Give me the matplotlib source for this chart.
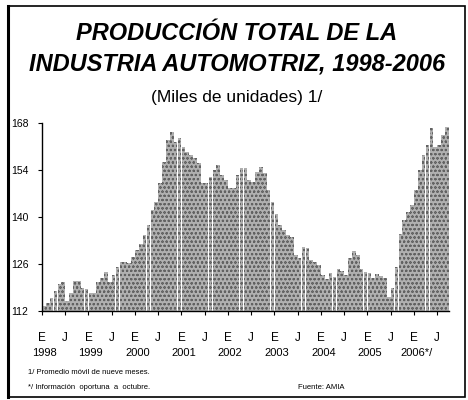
import matplotlib
matplotlib.use("Agg")
import matplotlib.pyplot as plt
from matplotlib.patches import Rectangle
import numpy as np

plt.rcParams['font.family'] = ['Liberation Sans', 'DejaVu Sans']
plt.rcParams['hatch.linewidth'] = 0.5

# monthly values, Jan 1998 - Sep 2006 (9 month moving average, thousands of units)
v1998 = [113.5, 114.5, 116, 118, 120, 120.5, 115, 117.5, 121, 121, 119, 118.5]
v1999 = [117.3, 117.5, 120.7, 121.8, 123.5, 120.5, 122.7, 125.2, 126.7, 126.7, 126.2, 128.2]
v2000 = [130.2, 132, 134.5, 137.6, 142, 144.5, 150, 156.4, 162.9, 165.4, 162.4, 163.4]
v2001 = [161, 159.4, 158.5, 157.5, 156, 150, 150, 152, 154, 155.5, 152.5, 151]
v2002 = [148.5, 148.5, 152.5, 154.5, 154.5, 151, 150.5, 153.5, 155, 153, 148, 144.5]
v2003 = [141, 137.6, 136, 134.6, 134, 128.7, 127.7, 131.1, 130.7, 127.2, 126.5, 125.7]
v2004 = [122.7, 121.5, 123.2, 122.2, 124.5, 124, 122.7, 127.7, 130, 128.7, 124.5, 123.7]
v2005 = [123.2, 121.7, 122.9, 122.5, 121.7, 116.3, 119, 125.2, 135, 139, 141.5, 143.7]
v2006 = [148, 154, 158.4, 161.4, 166.4, 160.9, 161.4, 164.4, 166.8]

values = v1998 + v1999 + v2000 + v2001 + v2002 + v2003 + v2004 + v2005 + v2006
years = ['1998', '1999', '2000', '2001', '2002', '2003', '2004', '2005', '2006*/']
month_labels = ['E', 'J']
yticks = [112, 126, 140, 154, 168]

fig = plt.figure(figsize=(4.68, 4.0), dpi=100)
ax = fig.add_axes([0.0897, 0.2225, 0.8693, 0.47])

x = np.arange(len(values))
ax.bar(x, np.array(values) - 112, bottom=112, width=0.94, color='#b0b0b0',
       edgecolor='#626262', hatch='oooo', linewidth=0)

ax.set_ylim(112, 168)
ax.set_xlim(-0.5, len(values) - 0.5)
for s in ['top', 'right']:
    ax.spines[s].set_visible(False)
for s in ['left', 'bottom']:
    ax.spines[s].set_linewidth(1.0)

ax.set_yticks(yticks)
ax.set_yticklabels([str(t) for t in yticks], fontsize=7.5)
ax.tick_params(axis='y', length=3, width=0.8, pad=19)
for lbl in ax.get_yticklabels():
    lbl.set_horizontalalignment('left')

tpos = np.arange(-0.5, len(values), 6)
ax.set_xticks(tpos)
ax.set_xticklabels([month_labels[i % 2] for i in range(len(tpos))], fontsize=8.5)
ax.tick_params(axis='x', length=3, width=0.8, pad=12)

for i, yr in enumerate(years):
    ax.text(-0.5 + 12 * i + 0.6, -0.195, yr, transform=ax.get_xaxis_transform(),
            ha='center', va='top', fontsize=8)

# titles
fig.text(0.505, 0.915, 'PRODUCCIÓN TOTAL DE LA', ha='center', va='center',
         fontsize=17, fontweight='bold', style='italic')
fig.text(0.506, 0.84, 'INDUSTRIA AUTOMOTRIZ, 1998-2006', ha='center', va='center',
         fontsize=17, fontweight='bold', style='italic')
fig.text(0.505, 0.757, '(Miles de unidades) 1/', ha='center', va='center', fontsize=12.5)

# notes
fig.text(0.06, 0.068, '1/ Promedio móvil de nueve meses.', fontsize=5.5, va='center')
fig.text(0.06, 0.032, '*/ Información  oportuna  a  octubre.', fontsize=5.5, va='center')
fig.text(0.637, 0.032, 'Fuente: AMIA', fontsize=5.5, va='center')

# frame
fig.add_artist(Rectangle((0.018, 0.008), 0.975, 0.978, transform=fig.transFigure,
                         fill=False, edgecolor='black', linewidth=1.2))
fig.add_artist(plt.Line2D([0.018, 0.018], [0.008, 0.986], transform=fig.transFigure,
                          color='black', linewidth=2.2))

fig.savefig('out.png', dpi=100)
